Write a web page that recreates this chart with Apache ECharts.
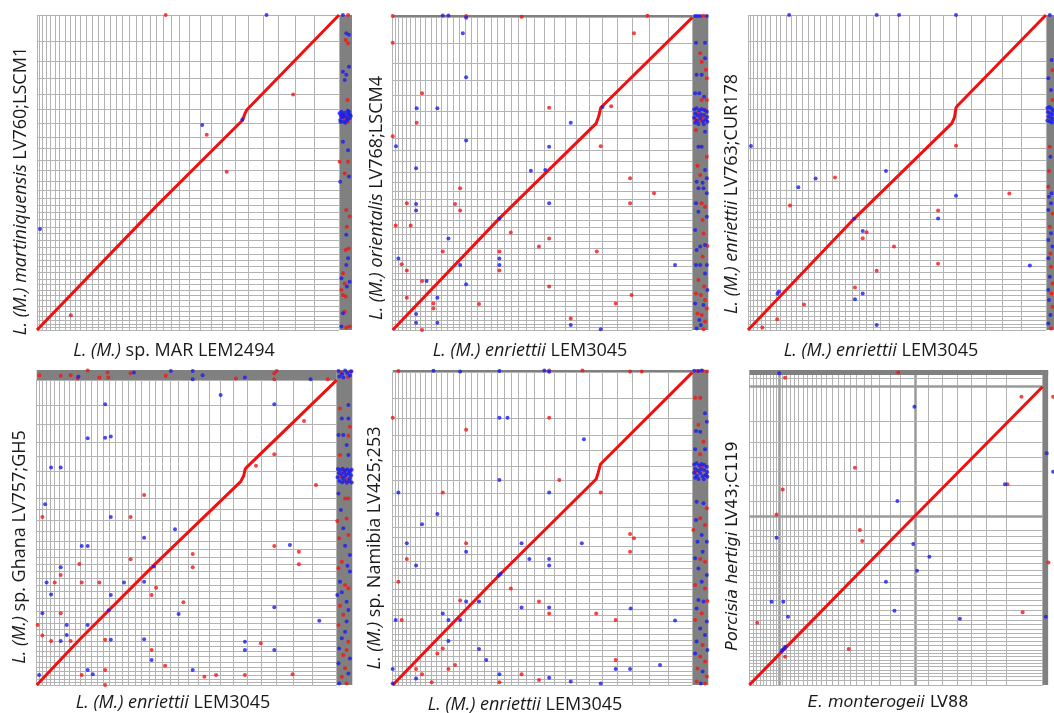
<!DOCTYPE html>
<html><head><meta charset="utf-8">
<script src="https://cdn.jsdelivr.net/npm/echarts@6.0.0/dist/echarts.min.js"></script>
<style>html,body{margin:0;padding:0;background:#fff}#c{width:1054px;height:713px}</style>
</head><body><div id="c"></div>
<script>
// ---- chromosome lengths (kb), used for the grid of chromosome boundaries ----
const leishChrKb = [268,355,384,472,466,516,596,537,574,570,582,675,654,623,629,714,685,739,702,742,772,716,772,840,912,1091,1130,1160,1212,1403,1484,1604,1583,1866,2090,2682];
const endoChrKb = [480,400,400,400,400,400,400,320,400,400,480,400,480,560,560,480,560,560,600,600,720,680,680,720,800,880,920,920,1280,1200,1800,1600,1720,1760,1720,1800,2400,4320];
const porcChrKb = [600,400,400,400,400,400,400,400,400,400,520,480,480,520,520,560,520,600,600,600,600,680,720,720,800,680,800,800,800,800,800,800,1600,1800,2000,1600,1680,1840,2480,4200];
const endoThickIdx = [9,31];
const porcThickIdx = [33,40];

// ---- dot plot values, in % of assembled genome (x: query, y: target); >100 = unplaced contigs ----
const p1Diag = [[0,0],[40,39.8],[66.8,65.4],[68.0,66.5],[68.8,68.6],[69.5,69.9],[100,100]];
const p1Red = [[42.6,100],[56.2,62.0],[84.8,74.8],[62.8,50.2],[11.2,4.7],
 [103.0,100],[102.2,92.1],[103.0,91.0],[102.8,73.0],[100.2,53.4],[103.0,53.4],[101.9,49.7],[102.4,38.1],[103.5,36.0],[102.6,32.8],[103.2,25.9],[102.2,25.4],[101.3,18.0],[101.9,14.8],[100.8,12.7],[101.3,11.1],[102.2,10.6],[101.9,5.8],[102.4,0.8],[103.5,1.1],[101.9,67.2],[103.0,66.1],[100.8,68.3]];
const p1Blue = [[76.0,100],[54.7,65.1],[1.0,32.1],[68.0,66.8],
 [101.3,100],[102.4,94.2],[103.3,93.7],[103.3,83.6],[101.3,82.0],[102.4,81.0],[101.9,79.4],[101.3,59.8],[103.0,57.1],[103.3,48.7],[100.4,47.1],[102.4,30.2],[103.0,22.8],[102.4,20.6],[100.8,16.4],[103.5,15.3],[102.6,13.8],[101.3,5.3],[100.8,1.1],
 [100.2,68.8],[100.8,69.3],[101.3,68.3],[101.9,69.0],[102.4,67.7],[103.0,68.6],[103.5,67.2],[100.4,66.7],[101.5,66.1],[102.6,66.5],[101.1,67.5],[103.3,69.3],[102.1,65.8],[103.9,67.9],[100.6,67.9],[102.9,67.0],[101.7,68.0],[103.6,68.3],[100.5,66.0],[102.9,69.6]];

const p2Diag = [[0,0],[35.6,35.7],[67.9,66.1],[68.8,68.5],[69.4,71.1],[100,100]];
const p2Red = [[0,100.4],[24.5,100.4],[43.0,100.2],[85.0,100.5],
 [0,91.9],[80.5,94.9],[9.8,75.7],[52.2,71.1],[72.9,71.6],[8.0,66.3],[0,62.0],[69.4,58.8],[79.2,48.5],[87.2,43.7],[22.5,45.3],[20.8,40.3],[4.7,40.5],[22.5,38.2],[79.2,40.5],[1.0,33.4],[6.0,33.4],[39.4,31.2],[52.2,29.3],[48.8,26.7],[16.7,25.1],[35.6,25.1],[35.6,19.0],[68.1,25.1],[3.0,21.0],[4.7,19.0],[52.2,13.9],[9.8,15.7],[4.7,10.3],[13.6,8.5],[13.6,6.9],[28.8,8.3],[79.7,11.2],[74.4,8.5],[59.4,3.7],[9.8,0],
 [102.6,88.5],[103.1,85.8],[104.5,83.2],[104.8,80.5],[103.1,73.6],[104.8,73.6],[101.2,64.0],[104.8,55.4],[101.7,52.5],[102.6,49.6],[103.1,40.5],[104.2,39.4],[103.4,35.2],[103.7,30.9],[105.0,26.9],[103.4,23.5],[102.0,16.0],[103.9,13.9],[101.2,11.7],[102.8,11.2],[104.2,9.6],[104.8,6.9],[101.7,5.3],[103.1,4.8],[104.2,2.7],[103.7,0.2],[103.7,100.5],
 [101.5,69.5],[103.5,68.0],[102.3,67.0],[104.5,70.2],[100.9,67.5]];
const p2Blue = [[16.7,100.6],[18.6,100.6],[24.5,99.9],
 [23.4,94.9],[24.5,80.8],[8.0,70.9],[14.9,70.9],[59.4,66.3],[1.1,58.8],[24.5,60.6],[52.2,58.6],[46.1,50.9],[50.9,51.2],[7.8,51.7],[7.8,40.3],[7.8,38.2],[52.2,40.5],[35.6,35.7],[18.6,29.3],[35.6,22.9],[35.6,20.8],[1.9,22.9],[22.5,20.8],[24.5,14.6],[94.2,20.8],[11.3,15.7],[14.9,10.3],[7.8,5.1],[7.8,2.3],[14.9,2.3],[59.4,1.6],[69.4,0.2],[70.0,71.3],
 [101.2,91.9],[104.2,91.9],[104.2,86.9],[101.4,81.6],[103.1,81.6],[100.9,75.7],[102.3,75.7],[103.9,74.6],[104.2,63.4],[102.0,58.6],[103.1,58.6],[104.2,51.2],[104.8,48.5],[101.4,47.4],[103.4,47.1],[103.7,45.3],[102.0,45.3],[104.8,43.7],[101.2,40.5],[102.0,37.8],[104.8,36.2],[100.9,32.0],[102.6,26.7],[104.2,27.2],[101.4,25.6],[104.8,20.8],[101.2,20.8],[102.6,20.8],[104.2,18.1],[105.0,12.8],[100.9,8.5],[103.7,8.0],[102.3,3.2],[102.8,1.6],[101.4,0.5],
 [100.9,100.4],[101.7,100.4],[102.6,100.4],[104.8,100.4],
 [100.6,70.5],[101.4,70.9],[102.3,70.2],[103.1,70.7],[104.0,70.4],[104.8,69.8],[100.9,69.2],[101.8,68.6],[102.8,69.0],[103.9,68.8],[104.9,68.1],[100.6,67.9],[101.5,66.9],[102.6,67.8],[103.4,66.8],[104.4,67.2],[105.0,66.6],[100.9,66.3],[102.0,65.9],[103.8,65.8]];

const p3Diag = [[0,0],[35.6,35.3],[68.4,65.6],[69.3,67.5],[69.8,70.5],[70.3,71.2],[100,100]];
const p3Red = [[29.2,48.4],[69.8,58.5],[14.1,39.5],[87.7,43.3],[63.8,37.9],[39.8,31.0],[38.5,29.1],[49.0,26.5],[63.8,21.0],[43.2,18.8],[35.9,13.5],[18.8,8.1],[9.8,3.4],[4.8,0.8],
 [102.2,82.5],[102.2,73.0],[101.3,58.2],[100.8,45.5],[102.2,37.0],[101.3,32.8],[101.5,24.3],[101.7,20.1],[102.2,14.8],[101.9,11.6],[102.2,7.4],[101.7,0.5],[101.0,50.5]];
const p3Blue = [[13.8,100],[43.2,100],[50.7,100],[69.8,100],[1.0,58.4],[46.3,50.5],[22.7,48.1],[16.9,45.3],[69.8,42.6],[63.8,35.4],[35.6,35.3],[38.5,31.4],[94.6,20.5],[38.5,11.6],[35.9,9.8],[43.2,1.6],[9.9,11.5],[10.4,12.2],
 [101.3,100],[101.9,85.7],[100.8,79.9],[101.7,76.2],[101.5,55.0],[101.9,43.4],[101.0,42.3],[101.7,40.2],[100.8,38.1],[101.7,30.7],[100.8,28.6],[102.2,26.5],[100.8,22.8],[101.3,16.9],[100.8,12.7],[101.0,9.5],[101.5,4.8],[100.8,2.1],
 [100.5,70.5],[101.2,70.8],[101.9,70.2],[102.4,69.6],[100.6,69.2],[101.4,68.8],[102.1,68.4],[100.8,67.8],[101.6,67.4],[102.3,67.0],[100.5,66.5],[101.3,66.2],[102.0,65.9]];

const p4Diag = [[0,0],[14.4,15.0],[39.1,39.3],[68.0,66.7],[69.0,68.6],[69.5,70.8],[70.4,71.8],[100,100]];
const p4Red = [[89.1,86.6],[79.2,75.7],[73.1,71.9],[93.1,65.6],[35.8,62.3],[1.9,55.1],[31.3,55.1],[79.2,45.6],[87.4,43.7],[87.4,39.6],[52.0,43.0],[52.0,38.6],[31.3,41.2],[14.2,39.7],[8.0,36.1],[6.0,33.6],[15.0,33.6],[20.9,33.6],[39.8,31.9],[38.3,29.5],[48.9,27.1],[8.0,23.5],[0.3,19.7],[1.9,16.2],[4.8,14.4],[11.3,14.4],[22.8,14.8],[38.3,11.5],[74.7,13.7],[42.8,6.3],[15.0,3.3],[22.8,4.9],[55.9,2.7],[59.8,3.3],[69.4,3.3],[85.3,3.5],[22.8,0],
 [0.9,101.6],[8.0,101.4],[11.3,101.6],[13.6,100.5],[17.0,103.1],[20.9,100.8],[23.6,102.5],[23.9,100.8],[31.3,102.2],[43.0,101.4],[66.4,100.5],[79.2,102.2],[80.0,103.0],[79.2,100.3],[97.0,100.3],
 [101.1,90.7],[104.4,84.7],[103.9,81.7],[101.1,75.4],[102.8,61.2],[103.9,61.2],[103.3,54.6],[100.2,53.8],[103.9,49.2],[100.8,48.1],[101.7,40.4],[100.6,38.3],[102.8,32.8],[103.9,31.7],[101.1,26.0],[102.2,23.0],[100.6,19.7],[103.9,14.2],[103.3,11.5],[102.2,9.8],[102.8,5.5],[101.7,2.7],[103.3,0.5],
 [101.5,102.5],[103.8,101.0],[104.6,102.8],[101.2,68.5],[103.5,67.2],[102.4,70.2]];
const p4Blue = [[61.3,95.1],[22.8,92.1],[79.2,92.1],[17.0,80.9],[22.8,81.1],[24.7,81.5],[4.8,71.3],[8.0,71.3],[2.8,59.3],[24.7,55.1],[46.1,51.1],[35.8,48.3],[15.0,45.6],[17.0,45.6],[84.4,45.9],[8.0,38.6],[3.3,33.6],[29.1,33.6],[35.8,33.9],[24.7,29.5],[4.8,29.7],[47.3,23.3],[1.9,23.5],[79.2,25.5],[94.2,21.1],[10.0,19.7],[17.0,19.7],[10.0,16.4],[8.0,14.4],[24.7,14.8],[35.8,15.0],[69.4,14.2],[69.4,11.5],[79.2,11.5],[38.3,8.2],[52.0,4.9],[17.0,4.9],[18.7,3.5],[0.8,3.3],[39.1,38.9],[24.0,24.5],
 [13.9,101.1],[32.4,102.5],[44.7,103.0],[52.0,103.0],[52.0,100.3],[55.3,101.6],[69.4,100.8],[91.3,100.3],
 [103.9,91.8],[101.7,87.4],[103.9,87.4],[100.6,82.0],[102.2,82.0],[103.3,78.7],[103.9,75.4],[100.6,62.8],[101.4,57.4],[102.2,51.4],[102.8,45.7],[104.4,42.6],[103.6,39.1],[104.4,37.2],[101.1,33.9],[101.7,30.4],[100.2,29.5],[103.3,27.3],[103.9,24.6],[103.3,20.8],[102.8,17.5],[101.7,15.3],[100.8,12.0],[104.4,8.7],[100.6,7.1],[103.9,3.8],[100.8,0.5],
 [100.6,103.0],[101.8,102.0],[102.8,103.1],[103.5,102.3],[104.4,101.5],[102.2,100.8],[100.9,101.2],[104.9,102.9],
 [100.4,70.8],[101.2,70.5],[102.0,70.9],[102.8,70.4],[103.6,70.7],[104.4,70.2],[105.0,70.6],[100.7,69.5],[101.6,69.2],[102.5,69.6],[103.3,69.0],[104.1,69.4],[104.8,68.8],[100.3,68.1],[101.9,67.9],[102.7,68.3],[104.3,67.8],[100.9,66.9],[101.8,66.5],[102.6,67.0],[103.4,66.3],[104.2,66.8],[105.0,66.4]];

const p5Diag = [[0,0],[35.6,35.2],[67.9,65.9],[68.6,68.0],[69.3,70.6],[100,100]];
const p5Red = [[1.9,100.4],[52.2,100.6],[63.3,100.6],[79.2,100.3],[83.1,100.3],
 [0,85.5],[52.2,85.5],[24.5,81.6],[55.6,65.6],[16.7,61.6],[69.4,61.6],[79.2,48.3],[80.5,46.9],[24.5,45.3],[79.2,42.6],[4.7,40.3],[1.9,33.0],[39.4,30.9],[22.5,27.0],[48.8,26.7],[52.2,22.9],[67.9,22.9],[3.0,20.8],[74.4,20.8],[16.7,11.7],[14.9,10.1],[74.4,8.0],[20.8,6.4],[7.8,5.1],[18.6,5.1],[9.8,3.4],[43.0,3.4],[35.6,0.9],[48.8,1.6],[13.0,0.9],
 [100.9,91.9],[102.6,91.9],[102.0,83.2],[103.7,77.8],[102.6,73.8],[104.8,56.5],[102.6,53.3],[104.2,51.2],[100.3,49.6],[102.6,40.3],[104.2,39.4],[100.9,32.0],[104.2,30.9],[105.0,26.9],[103.1,22.9],[100.9,20.8],[103.4,12.8],[102.6,9.1],[104.2,7.5],[101.7,5.3],[104.8,2.7],[101.4,1.1],[104.2,0.5],
 [101.5,100.4],[103.5,100.5],[104.8,100.3],[101.0,68.2],[103.2,69.8],[104.6,67.0]];
const p5Blue = [[13.6,100.5],[22.5,100.3],[35.6,100.4],[50.6,100.6],[52.2,100.2],
 [35.6,85.5],[38.3,85.5],[63.8,78.6],[35.6,65.6],[1.9,61.6],[52.2,61.6],[14.9,54.7],[9.8,51.4],[4.7,45.3],[43.0,45.3],[24.5,42.6],[63.1,45.3],[45.6,40.3],[52.2,40.3],[7.8,38.2],[52.2,38.2],[24.5,26.7],[28.8,26.7],[43.0,24.8],[52.2,24.8],[79.4,24.5],[16.7,22.9],[1.0,20.8],[18.6,20.8],[22.5,20.8],[94.2,20.6],[18.6,14.1],[28.8,11.5],[31.2,8.0],[89.2,6.4],[74.4,5.1],[79.2,5.1],[7.8,2.1],[0,5.1],[35.6,3.4],[52.2,2.3],[59.4,1.1],[69.4,0.5],[0,0.5],[35.4,35.0],[36.0,35.6],
 [104.2,86.9],[104.8,84.2],[102.6,81.0],[101.2,81.2],[100.9,75.4],[104.2,75.4],[101.4,58.6],[103.7,58.1],[101.2,52.8],[103.1,48.0],[101.7,45.8],[104.8,45.8],[103.4,42.6],[100.9,40.5],[102.0,37.3],[104.8,35.2],[103.1,33.0],[102.0,27.2],[103.7,26.7],[101.4,24.5],[104.8,20.3],[102.6,18.1],[104.2,16.0],[101.4,13.9],[105.0,11.2],[100.9,10.1],[103.4,4.3],[102.8,0.5],
 [100.6,100.5],[102.0,100.4],[103.0,100.6],
 [100.6,70.5],[101.4,70.9],[102.3,70.2],[103.1,70.7],[104.0,70.4],[104.8,69.8],[100.9,69.2],[101.8,68.6],[102.8,69.0],[103.9,68.8],[104.9,68.1],[100.6,67.9],[101.5,66.9],[102.6,67.8],[103.4,66.8],[104.4,67.2],[105.0,66.6],[100.9,66.3],[102.0,65.9],[103.8,65.8]];

const p6Diag = [[0,0],[11.6,11.7],[50,50.2],[100,100]];
const p6Red = [[12.2,103.0],[50.8,104.8],[92.8,96.6],[103.6,96.6],[36.0,72.8],[11.4,65.5],[88.0,67.3],[9.3,57.2],[37.7,52.0],[38.5,48.3],[102.0,41.1],[93.2,24.4],[2.7,20.9],[33.9,12.1],[12.2,9.5]];
const p6Blue = [[10.2,104.5],[56.3,93.3],[101.4,77.7],[103.6,71.5],[87.2,67.3],[50.5,61.7],[9.3,49.4],[55.9,47.3],[61.4,43.0],[57.2,38.3],[46.6,34.6],[7.6,27.9],[11.6,27.9],[49.5,24.9],[101.1,22.9],[13.2,22.9],[71.8,22.2],[11.4,11.8],[11.9,12.3],[11.0,11.4],[12.3,12.8]];

// ---- axis titles ----
const titles = [
 {x:'{i|L. (M.)} sp. MAR LEM2494', y:'{i|L. (M.) martiniquensis} LV760;LSCM1'},
 {x:'{i|L. (M.) enriettii} LEM3045', y:'{i|L. (M.) orientalis} LV768;LSCM4'},
 {x:'{i|L. (M.) enriettii} LEM3045', y:'{i|L. (M.) enriettii} LV763;CUR178'},
 {x:'{i|L. (M.) enriettii} LEM3045', y:'{i|L. (M.)} sp. Ghana LV757;GH5'},
 {x:'{i|L. (M.) enriettii} LEM3045', y:'{i|L. (M.)} sp. Namibia LV425;253'},
 {x:'{i|E. monterogeii} LV88', y:'{i|Porcisia hertigi} LV43;C119'}
];

// ---- layout ----
const panels = [
 {box:[37,15,315,315], xMax:104.3, yMax:100, xChr:leishChrKb, yChr:leishChrKb, vTop:100, bands:[[100,0,104.3,100]], diag:p1Diag, red:p1Red, blue:p1Blue, xl:[174,351], yl:[21,191], font:'Open Sans'},
 {box:[392.7,15,315.6,315], xMax:105.3, yMax:100.75, xChr:leishChrKb, yChr:leishChrKb, vTop:100, bands:[[100,0,105.3,100.75],[0,100,100,100.75]], diag:p2Diag, red:p2Red, blue:p2Blue, xl:[530,351], yl:[377,198], font:'Open Sans'},
 {box:[748,15,306,315], xMax:102.7, yMax:100, xChr:leishChrKb, yChr:leishChrKb, vTop:100, bands:[[100,0,102.7,100]], diag:p3Diag, red:p3Red, blue:p3Blue, xl:[881,351], yl:[732,194], font:'Open Sans'},
 {box:[36.7,370,315.6,315], xMax:105.2, yMax:103.3, xChr:leishChrKb, yChr:leishChrKb, vTop:100, bands:[[100,0,105.2,103.3],[0,100,100,103.3]], diag:p4Diag, red:p4Red, blue:p4Blue, xl:[173,703], yl:[20,547], font:'Open Sans'},
 {box:[392.7,370,315.6,315], xMax:105.3, yMax:100.75, xChr:leishChrKb, yChr:leishChrKb, vTop:100, bands:[[100,0,105.3,100.75],[0,100,100,100.75]], diag:p5Diag, red:p5Red, blue:p5Blue, xl:[525,705], yl:[375,548], font:'Open Sans'},
 {box:[749.3,370,304.7,315], xMax:103.9, yMax:105.6, xChr:endoChrKb, yChr:porcChrKb, vTop:103.9, xThick:endoThickIdx, yThick:porcThickIdx, extraY:[102.8], bands:[[100,0,101.9,105.6],[0,103.9,101.9,105.6]], diag:p6Diag, red:p6Red, blue:p6Blue, xl:[888,703], yl:[733,546], font:'DejaVu Sans', fs:16}
];

function cumPct(sizes){const tot=sizes.reduce((a,b)=>a+b,0);let c=0;const out=[0];sizes.forEach(s=>{c+=s;out.push(c/tot*100);});return out;}

const GRID_C='#b3b3b3', BAND_C='#808080';
const option = {animation:false, backgroundColor:'#fff', grid:[], xAxis:[], yAxis:[], series:[], graphic:[]};
panels.forEach((p,i)=>{
  option.grid.push({left:p.box[0], top:p.box[1], width:p.box[2], height:p.box[3]});
  option.xAxis.push({type:'value', gridIndex:i, min:0, max:p.xMax, show:false});
  option.yAxis.push({type:'value', gridIndex:i, min:0, max:p.yMax, show:false});
  const xb=cumPct(p.xChr), yb=cumPct(p.yChr);
  const thick={width:2.5,color:'#9a9a9a'};
  const lines=[];
  xb.forEach((b,k)=>{const s={coord:[b,0]}; if(p.xThick&&p.xThick.includes(k)) s.lineStyle=thick; lines.push([s,{coord:[b,p.vTop]}]);});
  yb.concat(p.extraY||[]).forEach((b,k)=>{const s={coord:[0,b]}; if(p.yThick&&p.yThick.includes(k)) s.lineStyle=thick; lines.push([s,{coord:[100,b]}]);});
  option.series.push({type:'scatter', xAxisIndex:i, yAxisIndex:i, data:[], silent:true, z:1,
    markArea:{silent:true, z:1, itemStyle:{color:BAND_C, borderWidth:0}, data:p.bands.map(b=>[{coord:[b[0],b[1]]},{coord:[b[2],b[3]]}])}});
  option.series.push({type:'scatter', xAxisIndex:i, yAxisIndex:i, data:[], silent:true, z:2,
    markLine:{silent:true, z:2, symbol:['none','none'], label:{show:false}, animation:false, lineStyle:{color:GRID_C,width:1,type:'solid'}, emphasis:{disabled:true}, data:lines}});
  option.series.push({type:'line', xAxisIndex:i, yAxisIndex:i, data:p.diag, symbol:'none', silent:true, z:9, lineStyle:{color:'#f01010', width:3}});
  option.series.push({type:'scatter', xAxisIndex:i, yAxisIndex:i, data:p.red, symbol:'circle', symbolSize:4, silent:true, z:10, itemStyle:{color:'#f41414'}});
  option.series.push({type:'scatter', xAxisIndex:i, yAxisIndex:i, data:p.blue, symbol:'circle', symbolSize:4, silent:true, z:11, itemStyle:{color:'#1c1cf0'}});
  const fs=p.fs||18, ff=p.font;
  const mk=(t,x,y,rot)=>({type:'text', x:x, y:y, rotation:rot, silent:true,
    style:{text:t, fontSize:fs, fontFamily:ff, fill:'#1a1a1a', align:'center', verticalAlign:'middle', textAlign:'center', textVerticalAlign:'middle',
      rich:{i:{fontStyle:'italic', fontSize:fs, fontFamily:ff, fill:'#1a1a1a'}}}});
  option.graphic.push(mk(titles[i].x, p.xl[0], p.xl[1], 0));
  option.graphic.push(mk(titles[i].y, p.yl[0], p.yl[1], Math.PI/2));
});
const chart = echarts.init(document.getElementById('c'), null, {renderer:'canvas'});
chart.setOption(option);
</script>
</body></html>
